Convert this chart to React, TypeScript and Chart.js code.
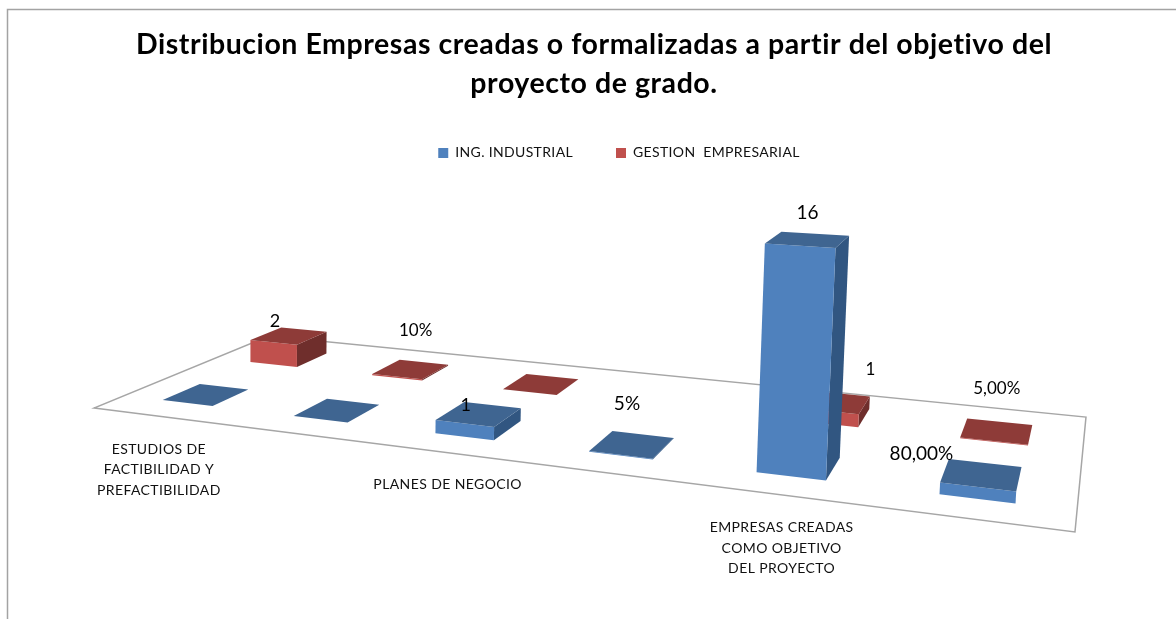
import React, { useEffect, useRef } from "react";
import { Chart, registerables } from "chart.js";

Chart.register(...registerables);

const titleLines = [
  "Distribucion Empresas creadas o formalizadas a partir del objetivo del",
  "proyecto de grado.",
];
const slots = ["a", "b", "c", "d", "e", "f"];
const categories = [
  ["ESTUDIOS DE", "FACTIBILIDAD Y", "PREFACTIBILIDAD"],
  ["PLANES DE NEGOCIO"],
  ["EMPRESAS CREADAS", "COMO OBJETIVO", "DEL PROYECTO"],
];
const ingIndustrial = [0, 0, 1, 0.05, 16, 0.8];
const gestionEmpresarial = [2, 0.1, 0, null, 1, 0.05];
const ingLabels = ["", "", "1", "5%", "16", "80,00%"];
const gestionLabels = ["2", "10%", "", "", "1", "5,00%"];

const ingOffsets = [[0, 0], [0, 0], [-13, -9], [-5, -41], [0, -27], [-60, -21]];
const gestionOffsets = [[-14, -15], [5, -39], [0, 0], [0, 0], [37, -33], [0, -43]];
const ingSizes = [16, 16, 18, 19, 19, 19];
const gestionSizes = [18, 17, 16, 16, 17, 17];
const categoryOffsets = [[-66, 45], [-73, 23], [-91, 42]];

const FONT = "Lato, Carlito, sans-serif";
const COLORS = [
  { front: "#4f81bd", top: "#3f6591", side: "#315681" },
  { front: "#c0504d", top: "#8e3b38", side: "#6f2e2c" },
];

// Floor projection (unit square -> picture plane)
const G = -0.2303, HH = 0.2038;
const A = 733.4, B = 229.8, C = 94;
const D = 1.5, E = -3.5, F = 408;
const floorPt = (u: number, v: number) => {
  const w = 1 + G * u + HH * v;
  return { x: (A * u + B * v + C) / w, y: (D * u + E * v + F) / w, w };
};
const HALF_U = 0.0325, HALF_V = 0.1;

const bars3d = {
  id: "bars3d",
  beforeLayout(chart: any) {
    chart.ctx.letterSpacing = "0.35px";
  },
  afterLayout(chart: any) {
    chart.legend.left += 25;
    chart.legend.right += 25;
    const block = chart.titleBlock;
    if (!block.__wrapped) {
      const draw = block.draw.bind(block);
      block.draw = () => {
        const c = chart.ctx;
        const prev = c.letterSpacing;
        c.letterSpacing = "0.56px";
        draw();
        c.letterSpacing = prev;
      };
      block.__wrapped = true;
    }
  },
  beforeDraw(chart: any) {
    const c = chart.ctx;
    c.letterSpacing = "0.35px";
    c.save();
    c.strokeStyle = "#a3a3a3";
    c.lineWidth = 1.5;
    c.beginPath();
    c.moveTo(7.5, 619);
    c.lineTo(7.5, 9.5);
    c.lineTo(1176, 9.5);
    c.stroke();
    c.restore();
  },
  beforeDatasetsDraw(chart: any) {
    const c = chart.ctx;
    const { x: xs, y: ys } = chart.scales;
    const area = chart.chartArea;
    const toU = (i: number) => (xs.getPixelForValue(i) - area.left) / area.width;
    const unit = ys.getPixelForValue(0) - ys.getPixelForValue(1);

    const lift = (u: number, v: number, val: number) => {
      const p = floorPt(u, v);
      const h = (unit * val) / p.w;
      return { x: p.x + ((p.x - 250) * h) / 14000, y: p.y - h };
    };
    const poly = (pts: any[], fill: string) => {
      c.fillStyle = fill;
      c.beginPath();
      pts.forEach((p, i) => (i ? c.lineTo(p.x, p.y) : c.moveTo(p.x, p.y)));
      c.closePath();
      c.fill();
    };

    c.save();
    // floor
    const corners = [floorPt(0, 0), floorPt(1, 0), floorPt(1, 1), floorPt(0, 1)];
    poly(corners, "#ffffff");
    c.strokeStyle = "#a6a6a6";
    c.lineWidth = 1.5;
    c.stroke();

    // bars, rear series first
    [1, 0].forEach((ds) => {
      const v0 = ds === 0 ? 0.25 : 0.75;
      const colors = COLORS[ds];
      chart.data.datasets[ds].data.forEach((val: number | null, i: number) => {
        if (val === null) return;
        const u0 = toU(i);
        const [ul, ur, vf, vb] = [u0 - HALF_U, u0 + HALF_U, v0 - HALF_V, v0 + HALF_V];
        const fl0 = lift(ul, vf, 0), fr0 = lift(ur, vf, 0), br0 = lift(ur, vb, 0);
        const fl = lift(ul, vf, val), fr = lift(ur, vf, val);
        const br = lift(ur, vb, val), bl = lift(ul, vb, val);
        if (br0.x - fr0.x > 8) poly([fr0, br0, br, fr], colors.side);
        poly([fl0, fr0, fr, fl], colors.front);
        poly([fl, fr, br, bl], colors.top);
      });
    });

    // value labels
    c.fillStyle = "#000000";
    c.textAlign = "center";
    c.textBaseline = "middle";
    c.letterSpacing = "0px";
    [gestionLabels, ingLabels].forEach((labels, k) => {
      const ds = k === 0 ? 1 : 0;
      const v0 = ds === 0 ? 0.25 : 0.75;
      const off = ds === 0 ? ingOffsets : gestionOffsets;
      const sizes = ds === 0 ? ingSizes : gestionSizes;
      labels.forEach((text, i) => {
        if (!text) return;
        const val = chart.data.datasets[ds].data[i] ?? 0;
        const p = lift(toU(i), v0, val);
        c.font = `${sizes[i]}px ${FONT}`;
        c.fillText(text, p.x + off[i][0], p.y + off[i][1]);
      });
    });

    // category labels
    c.font = `14px ${FONT}`;
    c.fillStyle = "#111111";
    c.letterSpacing = "0.4px";
    categories.forEach((lines, k) => {
      const u = (toU(2 * k) + toU(2 * k + 1)) / 2;
      const p = floorPt(u, 0);
      lines.forEach((line, n) => {
        const dy = (n - (lines.length - 1) / 2) * 20.5;
        c.fillText(line, p.x + categoryOffsets[k][0], p.y + categoryOffsets[k][1] + dy);
      });
    });
    c.restore();
    return false;
  },
};

export default function App() {
  const ref = useRef<HTMLCanvasElement>(null);
  useEffect(() => {
    const chart = new Chart(ref.current as HTMLCanvasElement, {
      type: "bar",
      data: {
        labels: slots,
        datasets: [
          { label: "ING. INDUSTRIAL", data: ingIndustrial, backgroundColor: COLORS[0].front },
          { label: "GESTION  EMPRESARIAL", data: gestionEmpresarial, backgroundColor: COLORS[1].front },
        ],
      },
      options: {
        animation: false,
        responsive: false,
        layout: { padding: { left: 12, bottom: 4 } },
        scales: {
          x: { display: false },
          y: { display: false, min: 0, max: 36 },
        },
        plugins: {
          tooltip: { enabled: false },
          title: {
            display: true,
            text: titleLines,
            color: "#000000",
            font: { family: FONT, size: 28.5, weight: "bold", lineHeight: 1.368 },
            padding: { top: 25, bottom: 0 },
          },
          legend: {
            display: true,
            position: "top",
            labels: {
              boxWidth: 10,
              boxHeight: 10,
              padding: 43,
              color: "#111111",
              font: { family: FONT, size: 14 },
            },
          },
        },
      },
      plugins: [bars3d],
    } as any);
    return () => chart.destroy();
  }, []);
  return (
    <div style={{ position: "fixed", left: 0, top: 0, width: 1176, height: 619, background: "#fff" }}>
      <canvas ref={ref} width={1176} height={619} style={{ display: "block" }} />
    </div>
  );
}
